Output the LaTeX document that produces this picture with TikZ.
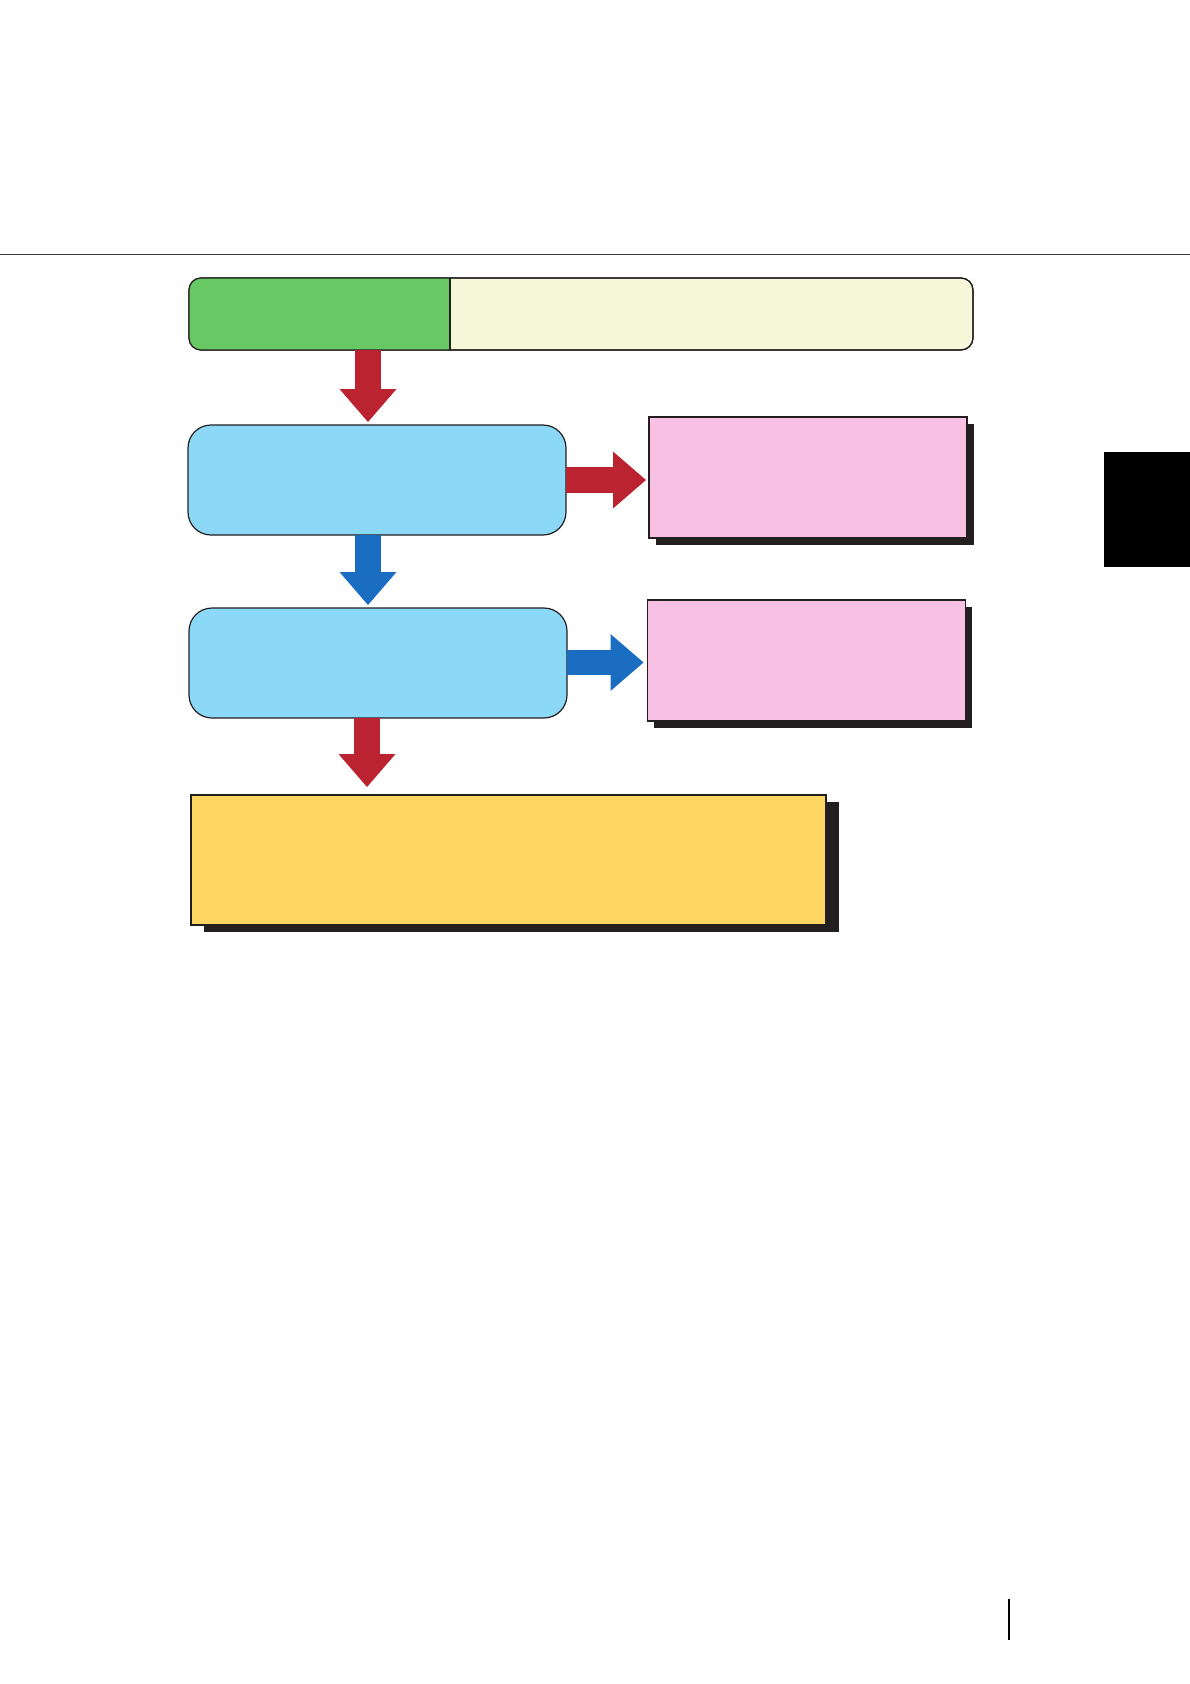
\documentclass[tikz,border=0pt]{standalone}
\usepackage{tikz}
\usetikzlibrary{arrows.meta,shadows}
\definecolor{fcgreen}{RGB}{104,200,100}
\definecolor{fccream}{RGB}{247,247,217}
\definecolor{fcblue}{RGB}{139,217,246}
\definecolor{fcpink}{RGB}{248,192,226}
\definecolor{fcyellow}{RGB}{252,214,96}
\definecolor{fcred}{RGB}{188,35,48}
\definecolor{fcdeep}{RGB}{26,109,192}
\definecolor{fcshade}{RGB}{35,31,32}
\definecolor{fcrule}{RGB}{60,60,60}

\begin{document}
\begin{tikzpicture}[x=1pt, y=-1pt,
        edge/.style={draw=fcshade, line width=1.2pt},
        headbar/.style={edge, fill=fccream, rounded corners=12pt, minimum width=784pt, minimum height=72pt, outer sep=0pt},
        tag/.style={fill=fcgreen, minimum width=261pt, minimum height=72pt, outer sep=0pt},
        stage/.style={edge, fill=fcblue, rounded corners=23pt, minimum width=378pt, minimum height=110pt, outer sep=0pt},
        note/.style={edge, fill=fcpink, minimum width=318pt, minimum height=121pt, outer sep=0pt,
          drop shadow={shadow xshift=6.5pt, shadow yshift=-6.5pt, fill=fcshade, opacity=1}},
        outcome/.style={edge, fill=fcyellow, minimum width=635pt, minimum height=130pt, outer sep=0pt,
          drop shadow={shadow xshift=13pt, shadow yshift=-7pt, fill=fcshade, opacity=1}},
        fat/.style={line width=25.5pt, -{Triangle[length=33pt, width=57pt, line width=0pt 0 0]}},
        redflow/.style={fat, draw=fcred, fill=fcred},
        blueflow/.style={fat, draw=fcdeep, fill=fcdeep}
      ]
      \useasboundingbox (0,0) rectangle (1190,1684);

      % page furniture
      \draw[fcrule, line width=1.8pt] (0,254.5) -- (1190,254.5);
      \fill[black] (1104,452) rectangle (1190,567);
      \draw[black, line width=2pt] (1008.5,1599) -- (1008.5,1640);

      % header bar
      \node[headbar] (bar) at (581,314) {};
      \begin{scope}
        \clip[rounded corners=12pt] (bar.south west) rectangle (bar.north east);
        \node[tag] (tag) at (319.5,314) {};
      \end{scope}
      \draw[edge, rounded corners=12pt] (bar.south west) rectangle (bar.north east);
      \draw[edge] (tag.north east) -- (tag.south east);

      \node[stage] (stage1) at (377,480) {};
      \node[note] (note1) at (808,477.5) {};
      \node[stage] (stage2) at (378,663) {};
      \node[note] (note2) at (806.5,660.5) {};
      \node[outcome] (result) at (508.5,860) {};

      \coordinate (spine) at (368,0);
      \coordinate (spine2) at (367,0);

      \draw[redflow] (bar.south -| spine) -- ([yshift=3pt]stage1.north -| spine);
      \draw[redflow] (stage1.east |- 0,480) -- ([xshift=-3pt]note1.west |- 0,480);
      \draw[blueflow] (stage1.south -| spine) -- ([yshift=3pt]stage2.north -| spine);
      \draw[blueflow] (stage2.east |- 0,662.5) -- ([xshift=-4pt]note2.west |- 0,662.5);
      \draw[redflow] (stage2.south -| spine2) -- ([yshift=8pt]result.north -| spine2);
    \end{tikzpicture}
\end{document}
